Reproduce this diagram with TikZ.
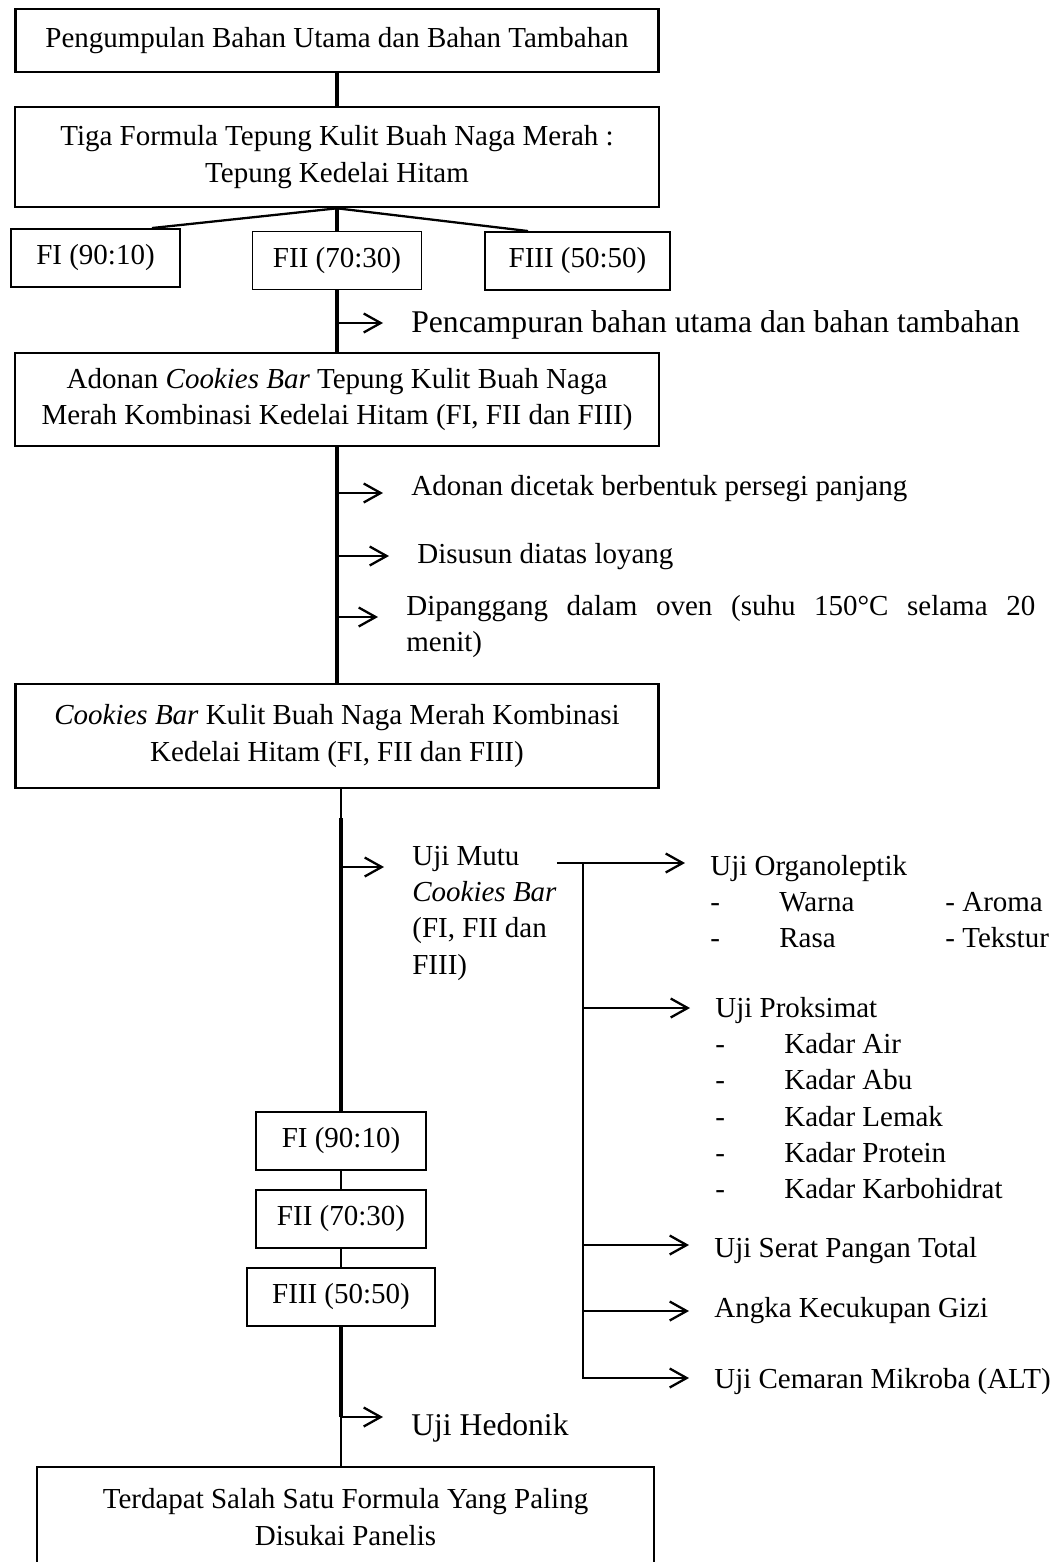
\documentclass[tikz,border=0pt]{standalone}
\usepackage{fontspec}
\setmainfont{Liberation Serif}
\usetikzlibrary{arrows.meta}

\begin{document}
\begin{tikzpicture}[x=0.02cm, y=-0.02cm, node distance=1.56cm,
            box/.style={draw, line width=1.5pt, align=center, inner sep=0pt,
                        font=\fontsize{16.5}{20.7}\selectfont},
            frm/.style={draw, line width=1.1pt, inner sep=0pt, minimum height=1.16cm,
                        font=\fontsize{16.5}{20.7}\selectfont},
            txt/.style={inner sep=0pt, anchor=base west, font=\fontsize{16.5}{20.7}\selectfont},
            bigtxt/.style={txt, font=\fontsize{18}{22}\selectfont},
            spine/.style={line width=1.8pt},
            link/.style={line width=1.3pt},
            thinline/.style={line width=0.6pt},
            arr/.style={line width=1.3pt, -{Straight Barb[length=0.34cm,width=0.38cm]}, shorten >=0.56cm},
            rarr/.style={arr, shorten >=0.5cm}]
            \useasboundingbox (0,0) rectangle (1064,1562);
            \clip (0,0) rectangle (1064,1562);

            \node (P) [box, minimum width=12.86cm, minimum height=1.26cm] at (337,40.5)
                {Pengumpulan Bahan Utama dan Bahan Tambahan};
            \node (T) [box, minimum width=12.88cm, minimum height=2cm] at (337,157)
                {Tiga Formula Tepung Kulit Buah Naga Merah :\\Tepung Kedelai Hitam};
            \node (F1) [frm, minimum width=3.38cm] at (95.5,258) {FI (90:10)};
            \node (F2) [frm, minimum width=3.38cm] at (337,260.5) {FII (70:30)};
            \node (F3) [frm, minimum width=3.7cm] at (577.5,261) {FIII (50:50)};
            \node (M) [bigtxt] at (411,332) {Pencampuran bahan utama dan bahan tambahan};
            \node (A) [box, minimum width=12.88cm, minimum height=1.86cm] at (337,399.5)
                {Adonan \textit{Cookies Bar} Tepung Kulit Buah Naga\\Merah Kombinasi Kedelai Hitam (FI, FII dan FIII)};
            \node (D1) [txt] at (411,495) {Adonan dicetak berbentuk persegi panjang};
            \node (D2) [txt] at (417,563) {Disusun diatas loyang};
            \node (D3) [txt] at (406,615) {\begin{tabular}[t]{@{}l@{}}
                \makebox[12.58cm][s]{Dipanggang dalam oven (suhu 150°C selama 20}\\menit)\end{tabular}};
            \node (CB) [box, minimum width=12.86cm, minimum height=2.08cm] at (337,736)
                {\textit{Cookies Bar} Kulit Buah Naga Merah Kombinasi\\Kedelai Hitam (FI, FII dan FIII)};
            \node (UM) [txt] at (412,865) {\begin{tabular}[t]{@{}l@{}}
                Uji Mutu\\\textit{Cookies Bar}\\(FI, FII dan\\FIII)\end{tabular}};
            \node (UO) [txt] at (710,875) {\begin{tabular}[t]{@{}p{0.96cm}p{2.9cm}l@{}}
                \multicolumn{3}{@{}l@{}}{Uji Organoleptik}\\
                - & Warna & - Aroma\\
                - & Rasa & - Tekstur\end{tabular}};
            \node (UP) [txt] at (715,1017) {\begin{tabular}[t]{@{}p{0.96cm}l@{}}
                \multicolumn{2}{@{}l@{}}{Uji Proksimat}\\
                - & Kadar Air\\
                - & Kadar Abu\\
                - & Kadar Lemak\\
                - & Kadar Protein\\
                - & Kadar Karbohidrat\end{tabular}};
            \node (US) [txt] at (714,1257) {Uji Serat Pangan Total};
            \node (AK) [txt] at (714,1317) {Angka Kecukupan Gizi};
            \node (UC) [txt] at (714,1388) {Uji Cemaran Mikroba (ALT)};
            \node (G1) [frm, minimum width=3.4cm] at (341,1141) {FI (90:10)};
            \node (G2) [frm, minimum width=3.4cm, below of=G1] {FII (70:30)};
            \node (G3) [frm, minimum width=3.76cm, below of=G2] {FIII (50:50)};
            \node (UH) [bigtxt] at (411,1435) {Uji Hedonik};
            \node (S) [box, minimum width=12.34cm, minimum height=2cm] at (345.5,1517)
                {Terdapat Salah Satu Formula Yang Paling\\Disukai Panelis};

            \coordinate (p1) at (337,323);
            \coordinate (p2) at (337,493);
            \coordinate (p3) at (337,556);
            \coordinate (p4) at (337,617);
            \coordinate (q1) at (341,818);
            \coordinate (p5) at (341,867);
            \coordinate (h) at (341,1417);
            \coordinate (b1) at (583,863);
            \coordinate (b2) at (583,1008);
            \coordinate (b3) at (583,1245);
            \coordinate (b4) at (583,1311);
            \coordinate (b5) at (583,1378);

            \draw[spine] (P) -- (T);
            \draw[link] (T.south) -- ([xshift=1.13cm]F1.north);
            \draw[spine] (T) -- (F2);
            \draw[link] (T.south) -- ([xshift=-0.99cm]F3.north);
            \draw[spine] (F2) -- (A);
            \draw[arr] (p1) -- (p1 -| M.west);
            \draw[spine] (A) -- (CB);
            \foreach \pt/\nd in {p2/D1, p3/D2, p4/D3}
                \draw[arr] (\pt) -- (\pt -| \nd.west);
            \draw[thinline] (q1 |- CB.south) -- (q1);
            \draw[spine] (q1) -- (G1);
            \draw[link] (G1) -- (G2);
            \draw[link] (G2) -- (G3);
            \draw[arr] (p5) -- (p5 -| UM.west);
            \draw[thinline] (UM.east |- b1) -- (b1);
            \draw[rarr] (b1) -- (b1 -| UO.west);
            \draw[rarr] (b1) -- (b5) -- (b5 -| UC.west);
            \foreach \pt/\nd in {b2/UP, b3/US, b4/AK}
                \draw[rarr] (\pt) -- (\pt -| \nd.west);
            \draw[spine] (G3) -- (h);
            \draw[arr] (h) -- (h -| UH.west);
            \draw[thinline] (h) -- (h |- S.north);
        \end{tikzpicture}
\end{document}
